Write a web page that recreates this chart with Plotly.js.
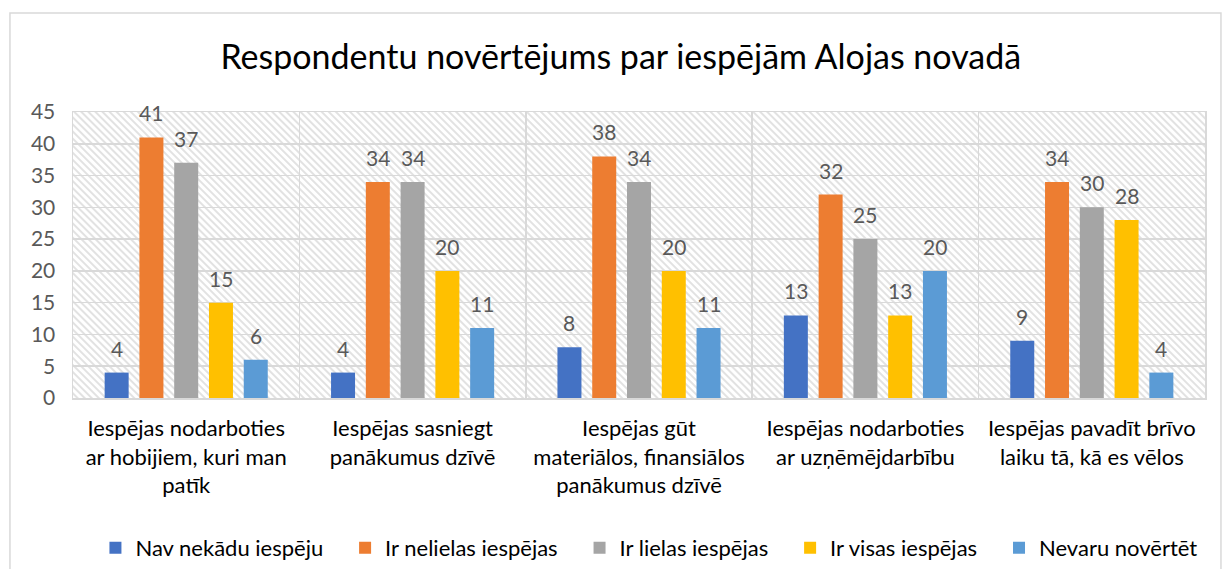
<!DOCTYPE html>
<html>
<head>
<meta charset="utf-8">
<script src="https://cdn.plot.ly/plotly-3.0.1.min.js"></script>
<style>html,body{margin:0;padding:0;background:#fff;}#chart{width:1222px;height:569px;}</style>
</head>
<body>
<div id="chart"></div>
<script>
const categories = [
  "Iespējas nodarboties<br>ar hobijiem, kuri man<br>patīk",
  "Iespējas sasniegt<br>panākumus dzīvē",
  "Iespējas gūt<br>materiālos, finansiālos<br>panākumus dzīvē",
  "Iespējas nodarboties<br>ar uzņēmējdarbību",
  "Iespējas pavadīt brīvo<br>laiku tā, kā es vēlos"
];
const seriesNames = ["Nav nekādu iespēju", "Ir nelielas iespējas", "Ir lielas iespējas", "Ir visas iespējas", "Nevaru novērtēt"];
const navNekaduIespeju = [4, 4, 8, 13, 9];
const irNelielasIespejas = [41, 34, 38, 32, 34];
const irLielasIespejas = [37, 34, 34, 25, 30];
const irVisasIespejas = [15, 20, 20, 13, 28];
const nevaruNovertet = [6, 11, 11, 20, 4];
const yTicks = [0, 5, 10, 15, 20, 25, 30, 35, 40, 45];

const colors = ["#4472C4", "#ED7D31", "#A5A5A5", "#FFC000", "#5B9BD5"];
const allSeries = [navNekaduIespeju, irNelielasIespejas, irLielasIespejas, irVisasIespejas, nevaruNovertet];
const FONT = "Lato, 'Open Sans', sans-serif";
const BARGAP = 0.232;
const nSeries = allSeries.length;
const LEGEND_PAD = "\u00a0\u00a0\u00a0";

const traces = allSeries.map((vals, i) => ({
  type: "bar",
  name: seriesNames[i] + LEGEND_PAD,
  x: categories,
  y: vals,
  marker: {color: colors[i]},
  hoverinfo: "x+y"
}));

// data labels placed above each bar, derived from the data and the group layout
const slot = (1 - BARGAP) / nSeries;
const annotations = [];
allSeries.forEach((vals, i) => {
  vals.forEach((v, c) => {
    annotations.push({
      xref: "x", yref: "y",
      x: c + (i - (nSeries - 1) / 2) * slot,
      y: v,
      text: String(v),
      showarrow: false,
      yanchor: "bottom",
      yshift: 10,
      font: {family: FONT, size: 21, color: "#595959"}
    });
  });
});

const patternSvg = '<svg xmlns="http://www.w3.org/2000/svg" width="1132" height="286">' +
  '<defs><pattern id="p" width="5" height="5" patternUnits="userSpaceOnUse" patternTransform="rotate(-45)">' +
  '<rect width="5" height="5" fill="#ffffff"/>' +
  '<line x1="1" y1="0" x2="1" y2="5" stroke="#d9d9d9" stroke-width="1.5"/></pattern></defs>' +
  '<rect width="1132" height="286" fill="url(#p)"/></svg>';

const layout = {
  width: 1222, height: 569,
  margin: {l: 73, r: 17, t: 112, b: 171, autoexpand: false},
  paper_bgcolor: "#ffffff",
  plot_bgcolor: "rgba(0,0,0,0)",
  font: {family: FONT, color: "#595959", size: 21},
  title: {text: "Respondentu novērtējums par iespējām Alojas novadā", font: {family: FONT, size: 34, color: "#000000"}, x: 0.508, xanchor: "center", xref: "container", y: 0.9, yanchor: "middle", yref: "container"},
  barmode: "group",
  bargap: BARGAP,
  bargroupgap: 0.31,
  showlegend: true,
  legend: {orientation: "h", x: 0.538, xanchor: "center", xref: "container", y: 0.037, yanchor: "middle", yref: "container", font: {family: FONT, size: 22, color: "#000000"}, traceorder: "normal", itemwidth: 30},
  xaxis: {
    type: "category",
    tickson: "boundaries",
    showgrid: true, gridcolor: "#d9d9d9", gridwidth: 1.5,
    showline: true, linecolor: "#d9d9d9", linewidth: 1.5, mirror: true,
    ticks: "", tickfont: {family: FONT, size: 22, color: "#000000"},
    ticklabelstandoff: 10,
    automargin: false,
    fixedrange: true
  },
  yaxis: {
    range: [0, 45],
    tickvals: yTicks,
    showgrid: true, gridcolor: "#d9d9d9", gridwidth: 1.5,
    showline: true, linecolor: "#d9d9d9", linewidth: 1.5, mirror: true,
    zeroline: false,
    ticks: "", ticklabelstandoff: 12,
    tickfont: {family: FONT, size: 21, color: "#595959"},
    automargin: false,
    fixedrange: true
  },
  annotations: annotations,
  images: [{
    source: "data:image/svg+xml;charset=utf-8," + encodeURIComponent(patternSvg),
    xref: "paper", yref: "paper", x: 0, y: 1, sizex: 1, sizey: 1,
    xanchor: "left", yanchor: "top", sizing: "stretch", layer: "below"
  }],
  shapes: [{
    type: "rect", xref: "paper", yref: "paper",
    x0: -0.0557, x1: 1.0141, y0: -0.7, y1: 1.346,
    line: {color: "#d9d9d9", width: 1.5}, fillcolor: "rgba(0,0,0,0)", layer: "below"
  }]
};

Plotly.newPlot("chart", traces, layout, {displayModeBar: false, staticPlot: true});
</script>
</body>
</html>
